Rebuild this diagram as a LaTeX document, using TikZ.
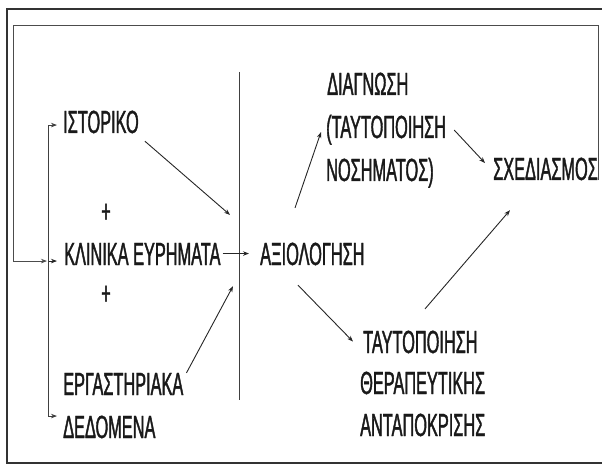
\documentclass[tikz,border=0pt]{standalone}
\usepackage{fontspec}
\setmainfont{Liberation Sans}[FakeStretch=0.51,FakeBold=1.2]
\usetikzlibrary{arrows.meta}
\begin{document}
\begin{tikzpicture}[x=1pt,y=-1pt,
  lbl/.style={inner sep=0pt, anchor=base west, text height=22.9pt, text depth=0pt,
    font=\fontsize{32}{36}\selectfont, text=black!90},
  plus/.style={inner sep=0pt, font=\fontsize{32}{36}\selectfont, text=black!90},
  ln/.style={draw=black!75, line width=0.9pt},
  arr/.style={draw=black!85, line width=0.9pt, -{Stealth[length=6pt,width=4.5pt]}}]
\useasboundingbox (0,0) rectangle (602,465);
% outer frame
\draw[black!80, line width=1.5pt] (602,9) -- (7,9) -- (7,463) -- (602,463);
% texts
\node[lbl] (ist)  at (63,133) {ΙΣΤΟΡΙΚΟ};
\node[plus] (p1)  at (106,213) {+};
\node[lbl] (klin) at (64,265) {ΚΛΙΝΙΚΑ ΕΥΡΗΜΑΤΑ};
\node[plus] (p2)  at (106,295) {+};
\node[lbl] (erg)  at (63,395) {ΕΡΓΑΣΤΗΡΙΑΚΑ};
\node[lbl] (ded)  at (63,438) {ΔΕΔΟΜΕΝΑ};
\node[lbl] (axi)  at (260,265) {ΑΞΙΟΛΟΓΗΣΗ};
\node[lbl] (diag1) at (327,95) {ΔΙΑΓΝΩΣΗ};
\node[lbl] (diag2) at (326,138) {(ΤΑΥΤΟΠΟΙΗΣΗ};
\node[lbl] (diag3) at (326,181) {ΝΟΣΗΜΑΤΟΣ)};
\node[lbl] (sxe)  at (493,180) {ΣΧΕΔΙΑΣΜΟΣ};
\node[lbl] (tay1) at (363,353) {ΤΑΥΤΟΠΟΙΗΣΗ};
\node[lbl] (tay2) at (360,394) {ΘΕΡΑΠΕΥΤΙΚΗΣ};
\node[lbl] (tay3) at (360,436) {ΑΝΤΑΠΟΚΡΙΣΗΣ};
% divider
\draw[ln] (239,72) -- (239,400);
% connectors
\draw[arr] ([xshift=6pt,yshift=-8pt]ist.south east) -- ([xshift=-30pt,yshift=27pt]axi.north west);
\draw[arr] ([xshift=2pt]klin.east) -- ([xshift=-11pt]axi.west);
\draw[arr] ([xshift=3pt,yshift=-1pt]erg.north east) -- ([xshift=-27pt,yshift=-21pt]axi.south west);
\draw[arr] ([xshift=35pt,yshift=34pt]axi.north west) -- ([xshift=-5pt,yshift=-5.5pt]diag2.west);
\draw[arr] ([xshift=38pt,yshift=-20pt]axi.south west) -- ([xshift=-10pt]tay1.west);
\draw[arr] ([xshift=8pt,yshift=-3.5pt]diag2.east) -- ([xshift=-8pt,yshift=5.5pt]sxe.west);
\draw[arr] ([xshift=62pt,yshift=21pt]tay1.north west) -- ([xshift=17pt,yshift=-30pt]sxe.south west);
% feedback loop
\draw[arr, draw=black!70] (sxe.south east) -- ++(0,-155) -| ([xshift=-51pt,yshift=-7.5pt]klin.west) -- ([xshift=-17pt,yshift=-7.5pt]klin.west);
\draw[arr] ([xshift=-16pt,yshift=-7.5pt]klin.west) -- ([xshift=-7pt,yshift=-7.5pt]klin.west);
% bracket
\draw[arr, draw=black!75, {Stealth[length=6pt,width=4.5pt]}-{Stealth[length=6pt,width=4.5pt]}] ([xshift=-6pt,yshift=-3.5pt]ist.west) -- ++(-9,0) |- ([xshift=-6pt,yshift=10.5pt]ded.west);
\end{tikzpicture}
\end{document}
